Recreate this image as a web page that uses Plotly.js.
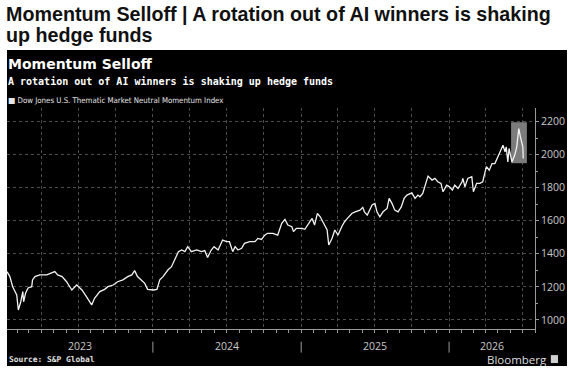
<!DOCTYPE html>
<html>
<head>
<meta charset="utf-8">
<script src="https://cdn.plot.ly/plotly-3.0.1.min.js"></script>
<style>
  html, body { margin: 0; padding: 0; background: #fff; width: 569px; height: 372px; overflow: hidden; }
  #headline {
    position: absolute; left: 6px; top: 4px;
    font-family: 'Liberation Sans', Arial, sans-serif; font-weight: bold;
    font-size: 19.7px; line-height: 21px; color: #111; white-space: nowrap;
  }
  #chart { position: absolute; left: 7px; top: 50px; width: 560px; height: 316px; }
</style>
</head>
<body>
<div id="headline">Momentum Selloff | A rotation out of AI winners is shaking<br>up hedge funds</div>
<div id="chart"></div>
<script>
// Dow Jones U.S. Thematic Market Neutral Momentum Index
const dates = [
  '2023-01-06','2023-01-13','2023-01-20','2023-01-30','2023-02-03','2023-02-09','2023-02-14','2023-02-16',
  '2023-02-21','2023-02-27','2023-03-08','2023-03-10','2023-03-16','2023-03-28','2023-04-14','2023-04-26',
  '2023-05-04','2023-05-11','2023-05-22','2023-06-02','2023-06-15','2023-06-27','2023-07-10','2023-07-21',
  '2023-08-03','2023-08-10','2023-08-23','2023-09-04','2023-09-12','2023-09-25','2023-10-06','2023-10-19',
  '2023-10-31','2023-11-10','2023-11-17','2023-11-24','2023-12-04','2023-12-12','2023-12-19',
  '2024-01-02','2024-01-11','2024-01-18','2024-01-26','2024-02-07','2024-02-16','2024-02-23','2024-03-04',
  '2024-03-12','2024-03-20','2024-03-27','2024-04-05','2024-04-18','2024-04-30','2024-05-08','2024-05-15',
  '2024-05-24','2024-05-31','2024-06-10','2024-06-21','2024-07-01','2024-07-08','2024-07-16','2024-07-22',
  '2024-07-29','2024-08-07','2024-08-14','2024-08-27','2024-09-09','2024-09-16','2024-09-25','2024-10-03',
  '2024-10-10','2024-10-23','2024-11-04','2024-11-14','2024-11-22','2024-11-29','2024-12-09','2024-12-13',
  '2024-12-20',
  '2025-01-03','2025-01-10','2025-01-17','2025-01-28','2025-02-03','2025-02-10','2025-02-17','2025-02-24',
  '2025-03-06','2025-03-10','2025-03-18','2025-03-25','2025-04-02','2025-04-11','2025-04-18','2025-04-25',
  '2025-05-06','2025-05-14','2025-05-26','2025-06-02','2025-06-06','2025-06-13','2025-06-25','2025-07-02',
  '2025-07-07','2025-07-14','2025-07-22','2025-08-01','2025-08-06','2025-08-13','2025-08-20','2025-08-28',
  '2025-09-05','2025-09-12','2025-09-19','2025-10-01','2025-10-09','2025-10-16','2025-10-21','2025-10-28',
  '2025-11-05','2025-11-10','2025-11-20','2025-11-27','2025-12-04','2025-12-12','2025-12-17','2025-12-26',
  '2026-01-02','2026-01-09','2026-01-15','2026-01-23','2026-02-02','2026-02-04','2026-02-09','2026-02-16',
  '2026-02-26','2026-03-02','2026-03-10','2026-03-18','2026-03-25','2026-03-30','2026-04-03','2026-04-10',
  '2026-04-17','2026-04-24','2026-05-01','2026-05-08','2026-05-14','2026-05-19','2026-05-22','2026-05-26',
  '2026-05-29','2026-06-05','2026-06-12','2026-06-17','2026-06-22','2026-06-26','2026-07-02','2026-07-03'
];
const values = [
  1292,1262,1201,1151,1060,1110,1171,1110,
  1163,1193,1201,1242,1262,1272,1272,1282,
  1292,1272,1262,1231,1181,1211,1181,1141,
  1091,1131,1171,1185,1201,1211,1231,1242,
  1262,1272,1298,1262,1242,1221,1185,
  1181,1185,1242,1262,1302,1322,1362,1413,
  1423,1413,1443,1413,1423,1413,1419,1378,
  1423,1443,1423,1483,1473,1473,1413,1443,
  1423,1433,1463,1473,1473,1493,1487,1513,
  1524,1524,1513,1584,1608,1574,1564,1534,
  1554,
  1554,1548,1574,1614,1574,1644,1624,1594,
  1544,1453,1493,1544,1513,1564,1594,1614,
  1644,1654,1664,1681,1654,1634,1695,1705,
  1654,1624,1654,1674,1735,1705,1664,1654,
  1684,1735,1755,1769,1735,1755,1745,1765,
  1826,1870,1846,1856,1836,1826,1775,1815,
  1805,1785,1815,1795,1836,1856,1805,1856,
  1866,1775,1826,1826,1836,1886,1927,1906,
  1946,1946,1987,2017,2057,2017,2047,1956,
  2037,1956,1997,2047,2158,2107,2047,1977
];

const seriesName = 'Dow Jones U.S. Thematic Market Neutral Momentum Index';
const yTicks = [1000, 1200, 1400, 1600, 1800, 2000, 2200];
const yearLabels = ['2023', '2024', '2025', '2026'];
const xRange = ['2023-01-06', '2026-08-01'];
const yRange = [945, 2282];

// Recent selloff window shaded in grey
const highlightStart = '2026-06-03';
const highlightEnd = '2026-07-12';
const highlightLow = 1948;
const highlightHigh = 2196;

const axisGrey = '#9a9a9a';
const labelGrey = '#c8c8c8';
const gridGrey = '#4d4d4d';

// Year labels sit in the middle of the visible part of each year
const t0 = Date.parse(xRange[0]);
const t1 = Date.parse(xRange[1]);
const yearAnnotations = yearLabels.map(function (y) {
  const a = Math.max(Date.parse(y + '-01-01'), t0);
  const b = Math.min(Date.parse((+y + 1) + '-01-01'), t1);
  return {
    x: new Date((a + b) / 2).toISOString().slice(0, 10), xref: 'x',
    y: -0.079, yref: 'paper', yanchor: 'middle', xanchor: 'center',
    text: y, showarrow: false, borderpad: 0,
    font: { family: 'Open Sans, sans-serif', size: 10.5, color: labelGrey }
  };
});

// Short separators between the year labels
const yearSeparators = yearLabels.slice(1).map(function (y) {
  return {
    type: 'line', xref: 'x', yref: 'paper',
    x0: y + '-01-01', x1: y + '-01-01', y0: -0.0575, y1: -0.107,
    line: { color: axisGrey, width: 1 }
  };
});

const trace = {
  type: 'scatter', mode: 'lines', name: seriesName,
  x: dates, y: values,
  line: { color: '#f2f2f2', width: 1.3 },
  hoverinfo: 'skip', showlegend: false
};

const layout = {
  width: 560, height: 316,
  paper_bgcolor: '#000', plot_bgcolor: '#000',
  margin: { l: 0, r: 32, t: 58, b: 37, pad: 0 },
  showlegend: false,
  xaxis: {
    type: 'date', range: xRange, fixedrange: true,
    tick0: '2023-01-01', dtick: 'M3',
    showgrid: true, gridcolor: gridGrey, griddash: 'dot', gridwidth: 1,
    showticklabels: false, ticks: 'outside', ticklen: 3, tickcolor: axisGrey,
    showline: true, linecolor: axisGrey, linewidth: 1, zeroline: false,
    minor: { dtick: 'M1', tick0: '2023-01-01', ticks: 'outside', ticklen: 3, tickcolor: axisGrey, showgrid: false }
  },
  yaxis: {
    side: 'right', range: yRange, fixedrange: true,
    tickmode: 'array', tickvals: yTicks,
    showgrid: true, gridcolor: gridGrey, griddash: 'dot', gridwidth: 1,
    ticks: 'outside', ticklen: 3, tickcolor: axisGrey,
    showline: true, linecolor: axisGrey, linewidth: 1, zeroline: false,
    tickfont: { family: 'Open Sans, sans-serif', size: 10.5, color: labelGrey },
    minor: { tickmode: 'linear', tick0: 1000, dtick: 100, ticks: 'outside', ticklen: 2, tickcolor: axisGrey, showgrid: false }
  },
  shapes: [
    {
      type: 'rect', xref: 'x', yref: 'y', layer: 'between',
      x0: highlightStart, x1: highlightEnd, y0: highlightLow, y1: highlightHigh,
      fillcolor: '#7b7b7b', line: { width: 0 }
    },
    {
      type: 'rect', xref: 'paper', yref: 'paper',
      x0: 1.030, x1: 1.0436, y0: -0.118, y1: -0.154,
      fillcolor: '#cfcfcf', line: { width: 0 }
    }
  ].concat(yearSeparators),
  annotations: [
    {
      xref: 'paper', yref: 'paper', x: 0, y: 1.199, xanchor: 'left', yanchor: 'middle', xshift: -1,
      text: 'Momentum Selloff', showarrow: false,
      font: { family: 'DejaVu Sans, sans-serif', size: 14, weight: 'bold', color: '#ffffff' }
    },
    {
      xref: 'paper', yref: 'paper', x: 0, y: 1.12, xanchor: 'left', yanchor: 'middle', xshift: -1,
      text: 'A rotation out of AI winners is shaking up hedge funds', showarrow: false,
      font: { family: 'DejaVu Sans Mono, monospace', size: 10, weight: 'bold', color: '#ffffff' }
    },
    {
      xref: 'paper', yref: 'paper', x: 0, y: 1.036, xanchor: 'left', yanchor: 'middle', xshift: -1,
      text: '<span style="font-family:DejaVu Sans">■</span> ' + seriesName, showarrow: false,
      font: { family: 'DejaVu Sans Condensed, Liberation Sans Narrow, sans-serif', size: 7.8, color: '#e6e6e6' }
    },
    {
      xref: 'paper', yref: 'paper', x: 0, y: -0.14, xanchor: 'left', yanchor: 'middle', xshift: 1,
      text: 'Source: S&amp;P Global', showarrow: false, borderpad: 0,
      font: { family: 'DejaVu Sans Mono, monospace', size: 7.9, weight: 'bold', color: '#e0e0e0' }
    },
    {
      xref: 'paper', yref: 'paper', x: 1.0246, y: -0.137, xanchor: 'right', yanchor: 'middle',
      text: 'Bloomberg', showarrow: false, borderpad: 0,
      font: { family: 'Open Sans, sans-serif', size: 11.5, color: '#dcdcdc' }
    }
  ].concat(yearAnnotations)
};

Plotly.newPlot('chart', [trace], layout, { displayModeBar: false, staticPlot: true });
</script>
</body>
</html>
